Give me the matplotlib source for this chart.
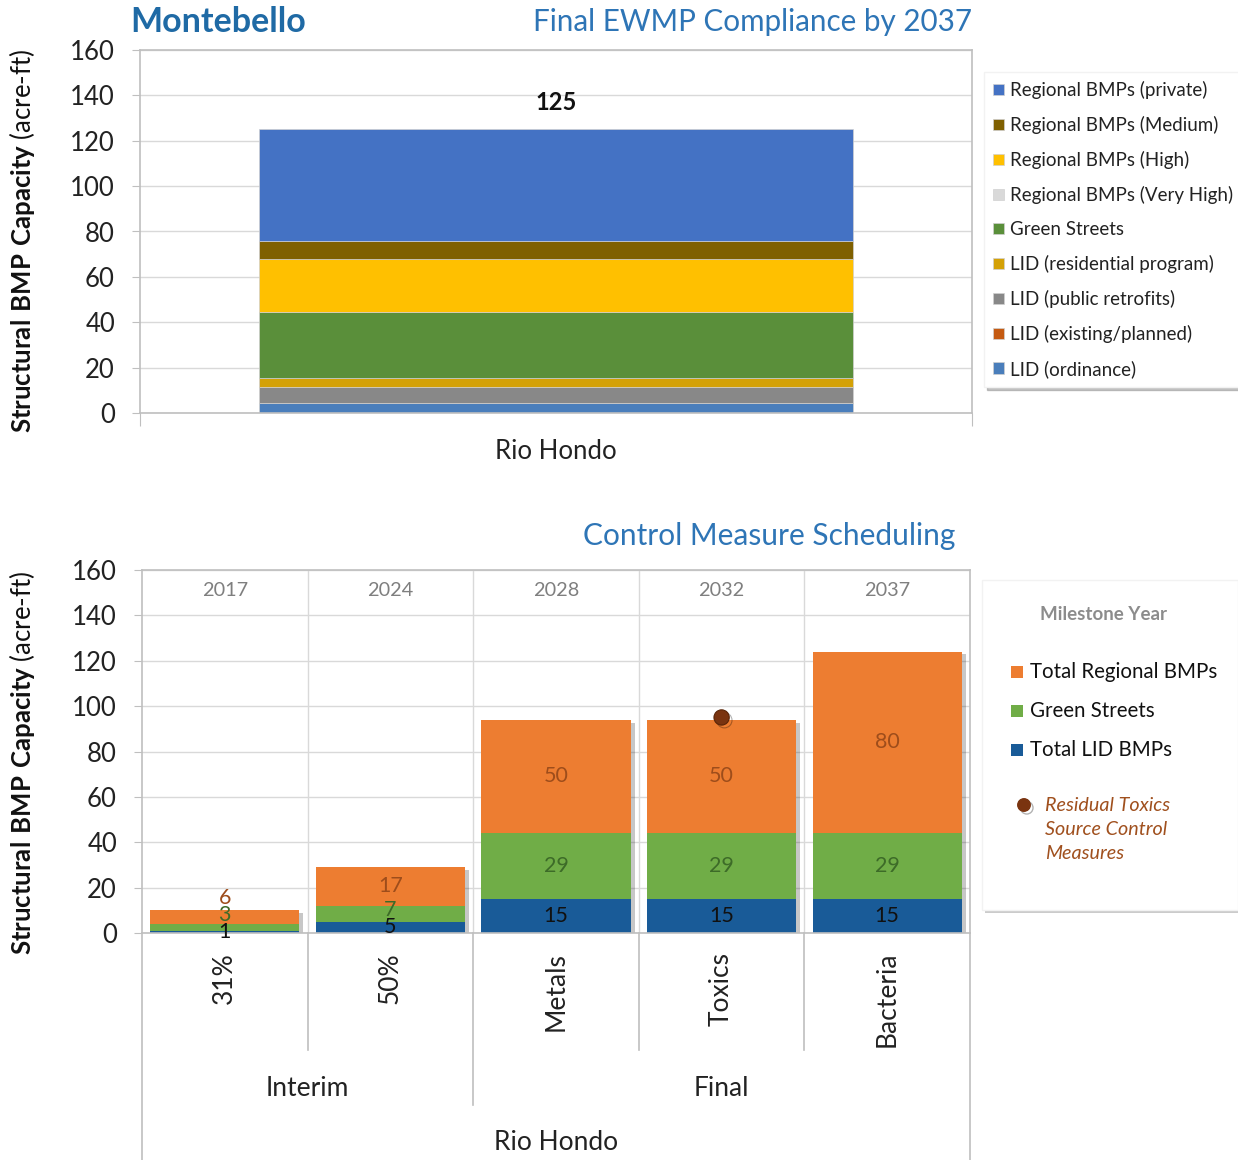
"""plot.py

Montebello - Final EWMP compliance by 2037 and control measure scheduling.
Two stacked bar charts drawn in one figure, saved as out.png.
"""
import matplotlib
matplotlib.use('Agg')
import matplotlib.pyplot as plt
import matplotlib.patheffects as pe
from matplotlib.patches import Rectangle
from matplotlib.transforms import blended_transform_factory

# -- DATA: TOP CHART (one bar, Rio Hondo)
top_category = 'Rio Hondo'
top_series = ['LID (ordinance)', 'LID (existing/planned)', 'LID (public retrofits)',
              'LID (residential program)', 'Green Streets', 'Regional BMPs (Very High)',
              'Regional BMPs (High)', 'Regional BMPs (Medium)', 'Regional BMPs (private)']
top_values = [4.2, 0.0, 7.3, 3.8, 29.2, 0.0, 23.2, 8.2, 49.1]
top_colors = ['#4A7EBB', '#C55A11', '#888888', '#D4A106', '#5A8F3A',
              '#D9D9D9', '#FFC000', '#7F6000', '#4472C4']

# -- DATA: BOTTOM CHART (milestones)
years = ['2017', '2024', '2028', '2032', '2037']
milestones = ['31%', '50%', 'Metals', 'Toxics', 'Bacteria']
groups = ['Interim', 'Final']
lid_bmps = [1, 5, 15, 15, 15]
green_streets = [3, 7, 29, 29, 29]
regional_bmps = [6, 17, 50, 50, 80]
residual_toxics_x = 3
residual_toxics_y = 95

BLUE_TITLE = '#2E75B6'
W, H = 1238, 1160

plt.rcParams['font.family'] = ['Lato', 'DejaVu Sans']
plt.rcParams['mathtext.fontset'] = 'custom'
plt.rcParams['mathtext.rm'] = 'Lato'
plt.rcParams['mathtext.bf'] = 'Lato:bold'


def fx(px):
    return px / W


def fy(py):
    return 1 - py / H


def style_axes(ax):
    for s in ax.spines.values():
        s.set_color('#BFBFBF')
        s.set_linewidth(1.2)
    ax.set_ylim(0, 160)
    ax.set_yticks(range(0, 161, 20))
    ax.tick_params(axis='y', labelsize=18.5, length=6, color='#BFBFBF',
                   labelcolor='#222222', pad=12)
    ax.grid(axis='y', color='#D9D9D9', lw=1)
    ax.set_axisbelow(True)


dot_shadow = [pe.SimpleLineShadow(offset=(2, -2), shadow_color='black', alpha=0.3),
              pe.Normal()]

fig = plt.figure(figsize=(W / 100, H / 100), dpi=100)

# ---------------- TOP CHART ----------------
ax1 = fig.add_axes([fx(140), fy(413), (972 - 140) / W, (413 - 50) / H])
style_axes(ax1)
bottom = 0
handles = []
for name, val, col in zip(top_series, top_values, top_colors):
    b = ax1.bar([top_category], [val], bottom=bottom, width=0.713, color=col,
                edgecolor='#D0D0D0', linewidth=0.5, label=name)
    handles.append(b)
    bottom += val
ax1.set_xlim(-0.5, 0.5)
ax1.set_xticks([-0.5, 0.5])
ax1.set_xticklabels([])
ax1.tick_params(axis='x', length=9, color='#BFBFBF')
ax1.text(0, -0.105, top_category, transform=blended_transform_factory(ax1.transData, ax1.transAxes),
         ha='center', va='center', fontsize=18.5, color='#222222')
ax1.text(0, bottom + 7, f'{round(bottom)}', ha='center', va='bottom',
         fontsize=17, fontweight='bold', color='#111111')

leg = fig.legend(handles[::-1], top_series[::-1], loc='upper left',
                 bbox_to_anchor=(fx(984), fy(72)), fontsize=13.5,
                 handlelength=0.55, handleheight=0.55, handletextpad=0.35,
                 labelspacing=0.9, borderaxespad=0, borderpad=0.5,
                 frameon=True, fancybox=False, edgecolor='#F2F2F2',
                 shadow={'color': '0.55', 'alpha': 0.5})
for t in leg.get_texts():
    t.set_color('#222222')

fig.text(fx(130), fy(22), 'Montebello', fontsize=24.5, fontweight='bold',
         color='#1F6AA5', ha='left', va='center')
fig.text(fx(972), fy(22), 'Final EWMP Compliance by 2037', fontsize=21.3,
         color=BLUE_TITLE, ha='right', va='center')

# ---------------- BOTTOM CHART ----------------
ax2 = fig.add_axes([fx(142), fy(933), (970 - 142) / W, (933 - 570) / H])
style_axes(ax2)
x = list(range(len(milestones)))
stacks = [(lid_bmps, '#195B98', '#111111', 'Total LID BMPs'),
          (green_streets, '#70AD47', '#3D6B28', 'Green Streets'),
          (regional_bmps, '#ED7D31', '#9E4D1B', 'Total Regional BMPs')]
totals = [a + b + c for a, b, c in zip(lid_bmps, green_streets, regional_bmps)]
# soft shadow behind the whole stacked bar
ax2.bar(x, totals, width=0.9, facecolor='none', edgecolor='none', zorder=1.5,
        path_effects=[pe.SimplePatchShadow(offset=(3, -2), shadow_rgbFace='black', alpha=0.22)])
base = [0] * len(x)
last_label = [-100] * len(x)
for vals, col, tcol, name in stacks:
    ax2.bar(x, vals, bottom=base, width=0.9, color=col, label=name, zorder=2)
    for i, v in enumerate(vals):
        ypos = max(base[i] + v / 2, last_label[i] + 7.5)
        last_label[i] = ypos
        ax2.text(i, ypos, str(v), ha='center', va='center', fontsize=15.5,
                 color=tcol, zorder=3)
    base = [bb + v for bb, v in zip(base, vals)]

ax2.plot([residual_toxics_x], [residual_toxics_y], 'o', ms=11, color='#7A3410',
         mec='#5A2508', mew=0.8, zorder=4, path_effects=dot_shadow)

ax2.set_xlim(-0.5, len(x) - 0.5)
ax2.set_xticks([])
for i in range(len(x) - 1):
    ax2.axvline(i + 0.5, color='#D9D9D9', lw=1, zorder=0)
for i, yr in enumerate(years):
    ax2.text(i, 151, yr, ha='center', va='center', fontsize=14.3, color='#7F7F7F')

bt = blended_transform_factory(ax2.transData, ax2.transAxes)
for i, m in enumerate(milestones):
    ax2.text(i, -0.052, m, transform=bt, rotation=90, ha='center', va='top',
             fontsize=19, color='#222222')
# category separators below the axis
for xv, y_end in [(0.5, -0.322), (1.5, -0.474), (2.5, -0.322), (3.5, -0.322),
                  (-0.5, -0.63), (len(x) - 0.5, -0.63)]:
    ax2.plot([xv, xv], [0, y_end], transform=bt, color='#BFBFBF', lw=1.2, clip_on=False)
ax2.text(0.5, -0.427, groups[0], transform=bt, ha='center', va='center', fontsize=19, color='#222222')
ax2.text(3, -0.427, groups[1], transform=bt, ha='center', va='center', fontsize=19, color='#222222')
ax2.text(2, -0.578, top_category, transform=bt, ha='center', va='center', fontsize=19, color='#222222')

fig.text(fx(955), fy(536), 'Control Measure Scheduling', fontsize=21.5,
         color=BLUE_TITLE, ha='right', va='center')

# bottom legend, drawn by hand
fig.add_artist(Rectangle((fx(985), fy(913)), (1238 - 985) / W, (913 - 582) / H,
                         transform=fig.transFigure, color='0.6', alpha=0.5, lw=0))
fig.add_artist(Rectangle((fx(982), fy(910)), (1238 - 982) / W, (910 - 580) / H,
                         transform=fig.transFigure, facecolor='white',
                         edgecolor='#F2F2F2', lw=1))
fig.text(fx(1104), fy(615), 'Milestone Year', fontsize=13.5, fontweight='bold',
         color='#8C8C8C', ha='center', va='center')
for k, (vals, col, tcol, name) in enumerate(stacks[::-1]):
    yc = 672 + 39 * k
    fig.add_artist(Rectangle((fx(1011), fy(yc + 6)), 12 / W, 12 / H,
                             transform=fig.transFigure, color=col, lw=0))
    fig.text(fx(1030), fy(yc), name, fontsize=14.8, color='#111111',
             ha='left', va='center')
fig.add_artist(plt.Line2D([fx(1024)], [fy(805)], marker='o', ms=9, color='#7A3410',
                          transform=fig.transFigure, path_effects=dot_shadow))
fig.text(fx(1045), fy(797), 'Residual Toxics\nSource Control\nMeasures', fontsize=14.2,
         style='italic', color='#A0501E', ha='left', va='top', linespacing=1.5)

# y labels
ylab = r'$\bf{Structural\ BMP\ Capacity}$ (acre-ft)'
fig.text(fx(22), fy(241), ylab, rotation=90, ha='center', va='center',
         fontsize=18.5, color='#111111')
fig.text(fx(22), fy(763), ylab, rotation=90, ha='center', va='center',
         fontsize=18.5, color='#111111')

fig.savefig('out.png', dpi=100, facecolor='white')
